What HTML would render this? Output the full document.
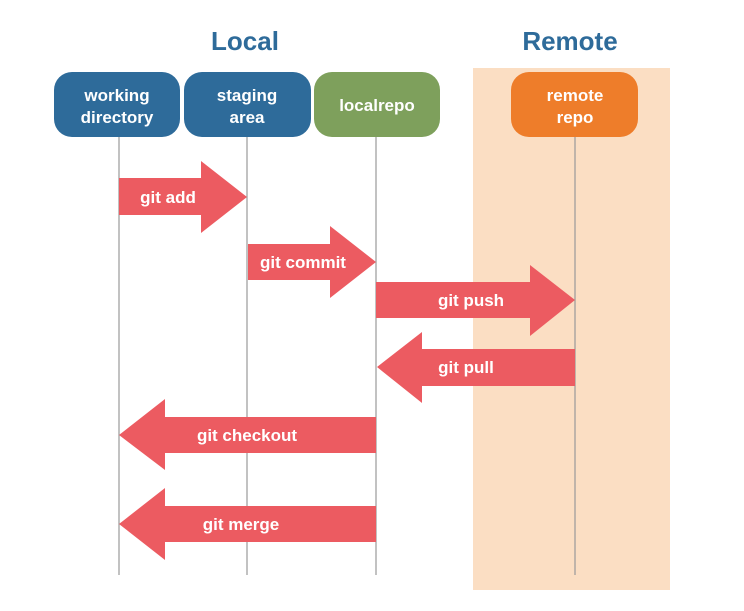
<!DOCTYPE html>
<html><head><style>
body{margin:0;background:#fff;}
svg{display:block;font-family:"Liberation Sans",sans-serif;font-weight:bold;}
</style></head><body>
<svg width="744" height="611" viewBox="0 0 744 611">
<rect x="473" y="68" width="197" height="522" fill="#fbdec3"/>
<text x="245" y="50" font-size="26" fill="#2e6b9a" text-anchor="middle">Local</text>
<text x="570" y="50" font-size="26" fill="#2e6b9a" text-anchor="middle">Remote</text>
<g stroke="#999" stroke-width="1.2">
<line x1="119" y1="137" x2="119" y2="575"/>
<line x1="247" y1="137" x2="247" y2="575"/>
<line x1="376" y1="137" x2="376" y2="575"/>
<line x1="575" y1="137" x2="575" y2="575"/>
</g>
<rect x="54" y="72" width="126" height="65" rx="18" fill="#2e6b9a"/>
<rect x="184" y="72" width="127" height="65" rx="18" fill="#2e6b9a"/>
<rect x="314" y="72" width="126" height="65" rx="18" fill="#7ea05c"/>
<rect x="511" y="72" width="127" height="65" rx="18" fill="#ee7d2a"/>
<g fill="#fff" font-size="17" text-anchor="middle">
<text x="117" y="101">working</text><text x="117" y="123">directory</text>
<text x="247" y="101">staging</text><text x="247" y="123">area</text>
<text x="377" y="111">localrepo</text>
<text x="575" y="101">remote</text><text x="575" y="123">repo</text>
</g>
<g fill="#ec5b61">
<polygon points="119,178 201,178 201,161 247,197 201,233 201,215 119,215"/>
<polygon points="248,244 330,244 330,226 376,262 330,298 330,280 248,280"/>
<polygon points="376,282 530,282 530,265 575,300 530,336 530,318 376,318"/>
<polygon points="575,349 422,349 422,332 377,367 422,403 422,386 575,386"/>
<polygon points="376,417 165,417 165,399 119,435 165,470 165,453 376,453"/>
<polygon points="376,506 165,506 165,488 119,524 165,560 165,542 376,542"/>
</g>
<g fill="#fff" font-size="17" text-anchor="middle">
<text x="168" y="203">git add</text>
<text x="303" y="268">git commit</text>
<text x="471" y="306">git push</text>
<text x="466" y="373">git pull</text>
<text x="247" y="441">git checkout</text>
<text x="241" y="530">git merge</text>
</g>
</svg>
</body></html>
